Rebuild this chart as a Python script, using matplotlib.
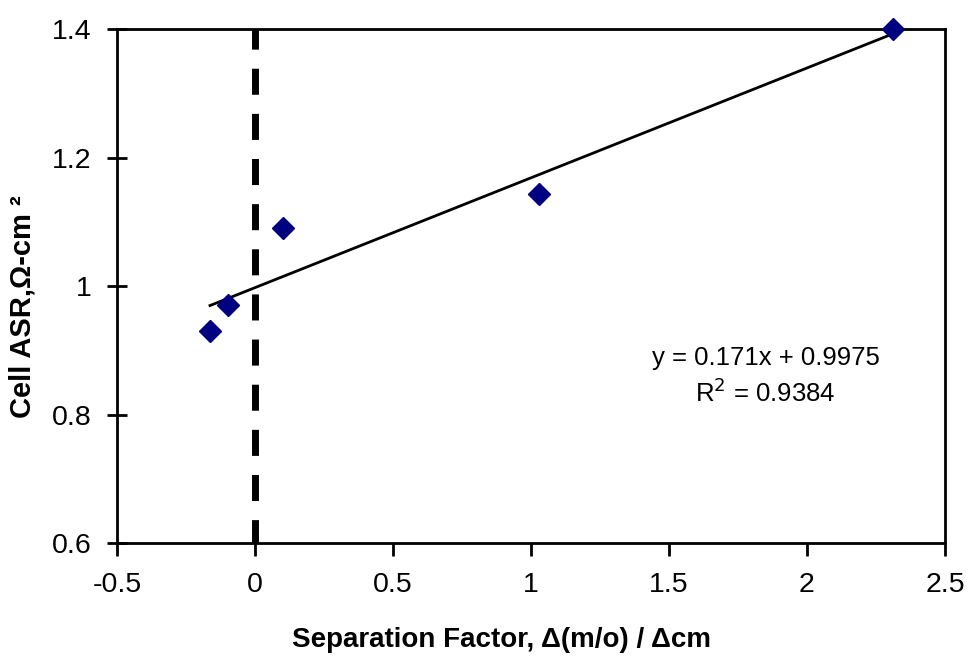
import numpy as np
import matplotlib.pyplot as plt

plt.rcParams['font.family'] = ['Liberation Sans', 'DejaVu Sans']

# data
sep_factor = [-0.163, -0.098, 0.10, 1.03, 2.31]
cell_asr = [0.930, 0.970, 1.090, 1.143, 1.40]
slope = 0.171
intercept = 0.9975

fig = plt.figure(figsize=(9.69, 6.62), dpi=100)
ax = fig.add_axes([0.1207, 0.1798, 0.8545, 0.7762])

# dashed line at zero
ax.plot([0, 0], [1.4, 0.6], color='black', lw=5,
        linestyle=(0.85, (3.75, 2.75)), zorder=1)

# linear fit
xf = np.array([min(sep_factor), max(sep_factor)])
ax.plot(xf, slope * xf + intercept, color='black', lw=2, zorder=2)

ax.plot(sep_factor, cell_asr, 'D', color='#000080', markersize=11, zorder=3,
        clip_on=False)

ax.set_xlim(-0.5, 2.5)
ax.set_ylim(0.6, 1.4)
ax.set_xticks([-0.5, 0, 0.5, 1, 1.5, 2, 2.5])
ax.set_xticklabels(['-0.5', '0', '0.5', '1', '1.5', '2', '2.5'])
ax.set_yticks([0.6, 0.8, 1.0, 1.2, 1.4])
ax.set_yticklabels(['0.6', '0.8', '1', '1.2', '1.4'])
ax.tick_params(axis='x', direction='out', length=9, width=2, labelsize=20.5, pad=12)
ax.tick_params(axis='y', direction='inout', length=15, width=2, labelsize=20.5, pad=11)
for s in ax.spines.values():
    s.set_linewidth(2)

ax.set_xlabel('Separation Factor, \u0394(m/o) / \u0394cm', fontsize=20,
              fontweight='bold')
ax.xaxis.set_label_coords(0.465, -0.163)
ax.set_ylabel('Cell ASR,\u03a9-cm \u00b2', fontsize=21, fontweight='bold')
ax.yaxis.set_label_coords(-0.097, 0.46)

ax.text(1.85, 0.888, 'y = 0.171x + 0.9975', fontsize=18.5, ha='center', va='center')
ax.text(1.85, 0.834, 'R$^2$ = 0.9384', fontsize=18.5, ha='center', va='center')

fig.savefig('out.png', dpi=100)
